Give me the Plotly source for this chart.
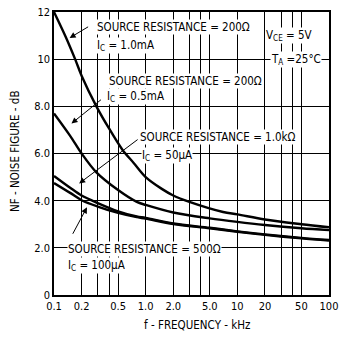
import math
import plotly.graph_objects as go

# ---- data (frequency in kHz, noise figure in dB) ----
f_c1 = [0.1, 0.134, 0.17, 0.2, 0.29, 0.4, 0.56, 0.74, 1.0, 1.5, 2.0, 3.0, 7.0, 10, 20, 50, 100]
nf_c1 = [12.0, 10.95, 10.0, 9.3, 8.0, 7.05, 6.15, 5.6, 5.0, 4.5, 4.22, 3.95, 3.52, 3.42, 3.2, 3.0, 2.87]

f_c2 = [0.1, 0.15, 0.2, 0.29, 0.5, 0.8, 1.0, 2.0, 5.0, 10, 20, 50, 100]
nf_c2 = [7.7, 6.75, 6.0, 5.2, 4.45, 3.95, 3.82, 3.5, 3.25, 3.1, 2.97, 2.83, 2.75]

f_c3 = [0.1, 0.15, 0.2, 0.3, 0.5, 0.8, 1.0, 2.0, 5.0, 10, 20, 50, 100]
nf_c3 = [5.05, 4.55, 4.22, 3.9, 3.55, 3.33, 3.27, 3.03, 2.85, 2.7, 2.57, 2.42, 2.33]

f_c4 = [0.1, 0.15, 0.2, 0.3, 0.5, 0.8, 1.0, 2.0, 5.0, 10, 20, 50, 100]
nf_c4 = [4.75, 4.33, 4.02, 3.75, 3.48, 3.3, 3.24, 3.01, 2.83, 2.68, 2.55, 2.4, 2.31]

x_tickvals = [0.1, 0.2, 0.5, 1.0, 2.0, 5.0, 10, 20, 50, 100]
x_ticktext = ["0.1", "0.2", "0.5", "1.0", "2.0", "5.0", "10", "20", "50", "100"]
x_minor_grid = [0.3, 0.4, 3, 4, 30, 40]
y_tickvals = [0, 2, 4, 6, 8, 10, 12]
y_ticktext = ["0", "2.0", "4.0", "6.0", "8.0", "10", "12"]

FONT = "Liberation Sans Narrow, DejaVu Sans Condensed, Arial Narrow, sans-serif"
ASIZE = 11.5

fig = go.Figure()
for fx, ny in [(f_c1, nf_c1), (f_c2, nf_c2), (f_c3, nf_c3), (f_c4, nf_c4)]:
    fig.add_trace(go.Scatter(x=fx, y=ny, mode="lines",
                             line=dict(color="black", width=2.4, shape="spline", smoothing=0.9),
                             showlegend=False, hoverinfo="skip"))

def lx(f):
    return math.log10(f)

anns = []
def txt(text, f, y, bg=False):
    anns.append(dict(text=text, x=lx(f), y=y, xref="x", yref="y", xanchor="left", yanchor="middle",
                     showarrow=False, font=dict(family=FONT, size=ASIZE, color="black"),
                     bgcolor="white" if bg else None, borderpad=0))

def arrow(f, y, ax, ay):
    anns.append(dict(text="", x=lx(f), y=y, xref="x", yref="y", ax=ax, ay=ay, showarrow=True,
                     arrowhead=2, arrowsize=1.2, arrowwidth=1, arrowcolor="black"))

txt("SOURCE RESISTANCE = 200Ω", 0.284, 11.36, True)
txt("I<sub>C</sub> = 1.0mA", 0.284, 10.6, True)
txt("SOURCE RESISTANCE = 200Ω", 0.391, 9.08, True)
txt("I<sub>C</sub> = 0.5mA", 0.372, 8.4, True)
txt("SOURCE RESISTANCE = 1.0kΩ", 0.85, 6.68, True)
txt("I<sub>C</sub> = 50μA", 0.88, 5.91, True)
txt("SOURCE RESISTANCE = 500Ω", 0.137, 1.94, True)
txt("I<sub>C</sub> = 100μA", 0.137, 1.23, True)
txt("V<sub>CE</sub> = 5V", 20.1, 11.0, True)
txt("T<sub>A</sub> =25°C", 22.7, 9.97, True)

arrow(0.148, 10.9, 20, -12)
arrow(0.155, 7.27, 31, -25)
arrow(0.188, 4.73, 60, -45)
arrow(0.229, 3.72, -15, 28)

anns.append(dict(text="NF - NOISE FIGURE - dB", xref="paper", yref="paper", x=-0.144, y=0.51,
                 textangle=-90, showarrow=False, xanchor="center", yanchor="middle",
                 font=dict(family=FONT, size=ASIZE, color="black")))
anns.append(dict(text="f - FREQUENCY - kHz", xref="paper", yref="paper", x=0.521, y=-0.106,
                 showarrow=False, xanchor="center", yanchor="middle",
                 font=dict(family=FONT, size=ASIZE, color="black")))

fig.update_layout(
    width=344, height=341,
    margin=dict(l=54, r=6, t=11, b=46),
    paper_bgcolor="white", plot_bgcolor="white",
    font=dict(family=FONT, size=11, color="black"),
    annotations=anns,
    xaxis=dict(type="log", range=[-1, 2], tickvals=x_tickvals, ticktext=x_ticktext,
               showgrid=True, gridcolor="black", gridwidth=1,
               minor=dict(tickvals=x_minor_grid, showgrid=True, gridcolor="black", gridwidth=1, ticks=""),
               showline=True, linecolor="black", linewidth=1.5, mirror=True,
               ticks="", zeroline=False, ticklabeloverflow="allow",
               tickfont=dict(family=FONT, size=11)),
    yaxis=dict(range=[0, 12], tickvals=y_tickvals, ticktext=y_ticktext,
               showgrid=True, gridcolor="black", gridwidth=1,
               showline=True, linecolor="black", linewidth=1.5, mirror=True,
               ticks="", zeroline=False, ticklabeloverflow="allow",
               tickfont=dict(family=FONT, size=11)),
)

fig.write_html("out.html")
